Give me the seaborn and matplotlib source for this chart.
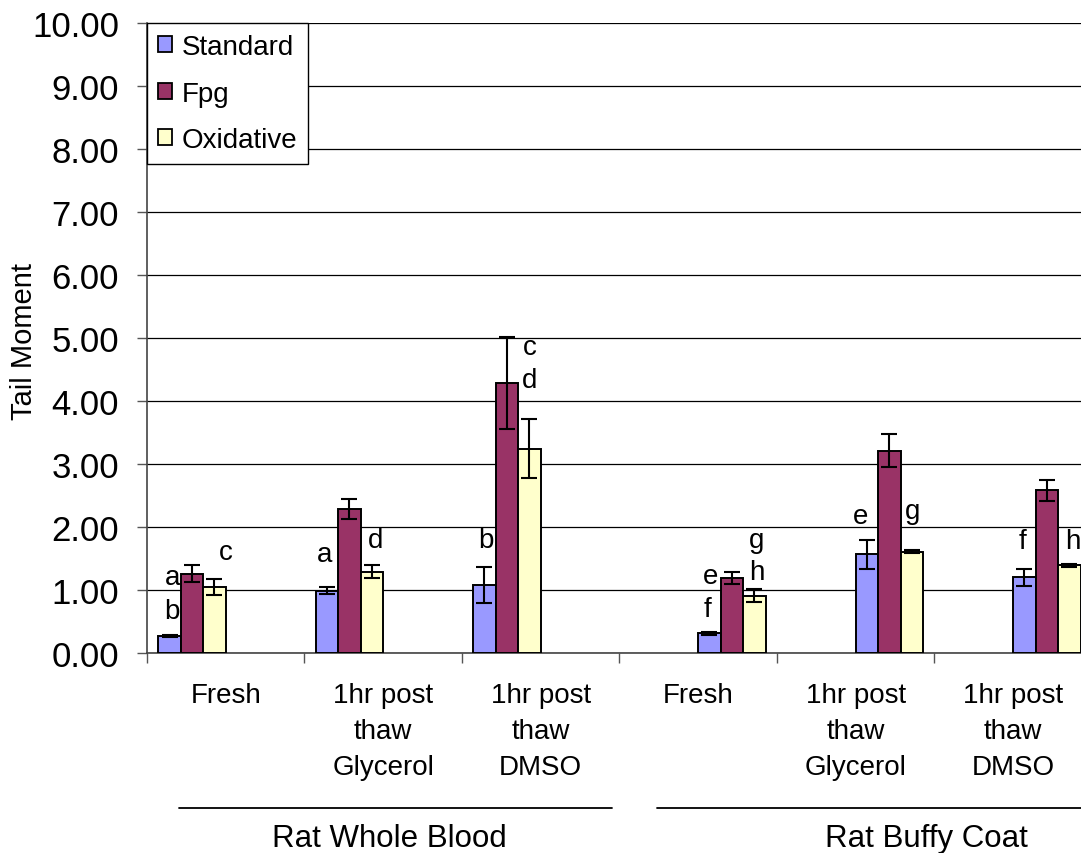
import matplotlib
matplotlib.use("Agg")
import matplotlib.pyplot as plt
import matplotlib.transforms as mtransforms
from matplotlib.patches import Patch
import numpy as np
import pandas as pd
import seaborn as sns

# ---- data -------------------------------------------------------------
groups = ["Rat Whole Blood", "Rat Buffy Coat"]
conditions = ["Fresh", "1hr post\nthaw\nGlycerol", "1hr post\nthaw\nDMSO"]
series = ["Standard", "Fpg", "Oxidative"]
series_colors = ["#9999FF", "#993366", "#FFFFCC"]

wb_standard = [0.27, 0.99, 1.08]
wb_fpg = [1.26, 2.28, 4.29]
wb_oxidative = [1.05, 1.29, 3.24]
bc_standard = [0.31, 1.57, 1.20]
bc_fpg = [1.19, 3.21, 2.58]
bc_oxidative = [0.91, 1.61, 1.39]

wb_standard_err = [0.02, 0.05, 0.29]
wb_fpg_err = [0.13, 0.16, 0.73]
wb_oxidative_err = [0.13, 0.10, 0.47]
bc_standard_err = [0.02, 0.23, 0.14]
bc_fpg_err = [0.10, 0.26, 0.16]
bc_oxidative_err = [0.10, 0.03, 0.03]

# significance letters placed in category units / tail-moment units
letter_text = ["b", "a", "c", "a", "d", "b", "c", "d",
               "f", "e", "h", "g", "e", "g", "f", "h"]
letter_x = [-0.34, -0.34, 0.00, 0.63, 0.95, 1.65, 1.93, 1.93,
            3.06, 3.08, 3.37, 3.37, 4.03, 4.36, 5.06, 5.38]
letter_y = [0.66, 1.20, 1.60, 1.57, 1.80, 1.80, 4.86, 4.34,
            0.70, 1.22, 1.28, 1.80, 2.17, 2.25, 1.77, 1.77]

means = {("Rat Whole Blood", "Standard"): wb_standard,
         ("Rat Whole Blood", "Fpg"): wb_fpg,
         ("Rat Whole Blood", "Oxidative"): wb_oxidative,
         ("Rat Buffy Coat", "Standard"): bc_standard,
         ("Rat Buffy Coat", "Fpg"): bc_fpg,
         ("Rat Buffy Coat", "Oxidative"): bc_oxidative}
errors = {("Rat Whole Blood", "Standard"): wb_standard_err,
          ("Rat Whole Blood", "Fpg"): wb_fpg_err,
          ("Rat Whole Blood", "Oxidative"): wb_oxidative_err,
          ("Rat Buffy Coat", "Standard"): bc_standard_err,
          ("Rat Buffy Coat", "Fpg"): bc_fpg_err,
          ("Rat Buffy Coat", "Oxidative"): bc_oxidative_err}

# Each sample type owns its own three bar slots, so six slots per category
cat_keys = [f"{g}|{c}" for g in groups for c in conditions]
slot_keys = [f"{g}|{s}" for g in groups for s in series]
palette = {f"{g}|{s}": col for g in groups for s, col in zip(series, series_colors)}

rows = []
for g in groups:
    for ci, c in enumerate(conditions):
        for s in series:
            rows.append({"category": f"{g}|{c}", "slot": f"{g}|{s}",
                         "value": means[(g, s)][ci], "err": errors[(g, s)][ci]})
df = pd.DataFrame(rows)

bar_width = 6 / 7
n_slots = len(slot_keys)
df["xpos"] = [cat_keys.index(c) - bar_width / 2 + (slot_keys.index(s) + 0.5) * bar_width / n_slots
              for c, s in zip(df["category"], df["slot"])]

# ---- figure ---------------------------------------------------------
sns.set_style("white")
plt.rcParams["font.family"] = ["Liberation Sans", "DejaVu Sans"]
plt.rcParams["text.color"] = "black"
plt.rcParams["axes.labelcolor"] = "black"
plt.rcParams["xtick.color"] = "black"
plt.rcParams["ytick.color"] = "black"
FS = 20

fig = plt.figure(figsize=(10.81, 8.54), dpi=100)
ax = fig.add_axes([147 / 1081, 200 / 854, 945 / 1081, 630 / 854])

sns.barplot(data=df, x="category", y="value", hue="slot", order=cat_keys,
            hue_order=slot_keys, palette=palette, width=bar_width, dodge=True,
            errorbar=None, edgecolor="black", linewidth=1.4, saturation=1,
            legend=False, ax=ax, zorder=3)

ax.errorbar(df["xpos"], df["value"], yerr=df["err"], fmt="none",
            ecolor="black", elinewidth=1.5, capsize=6, capthick=1.5, zorder=4)

ax.set_ylim(0, 10)
ax.set_xlim(-0.5, 5.5)
ax.set_yticks(np.arange(0, 11, 1))
ax.set_yticklabels([f"{v:.2f}" for v in np.arange(0, 11, 1)], fontsize=25)
ax.yaxis.grid(True, color="black", linewidth=0.9)
ax.set_axisbelow(True)

ax.set_xticks(np.arange(-0.5, 6, 1))
ax.set_xticklabels([])
ax.set_xticks(np.arange(6), labels=conditions * 2, minor=True)
ax.tick_params(axis="x", which="major", direction="out", length=7, width=1,
               color="#555555", bottom=True)
ax.tick_params(axis="x", which="minor", length=0, pad=21, labelsize=FS)
for lab in ax.get_xticklabels(minor=True):
    lab.set_linespacing(1.5)
ax.tick_params(axis="y", direction="out", length=7, width=1, color="#555555",
               pad=13, left=True)
ax.set_xlabel("")
ax.set_ylabel("")
fig.text(24 / 1081, 1 - 341 / 854, "Tail Moment", fontsize=21, rotation=90,
         ha="center", va="center")

for side in ["top", "right"]:
    ax.spines[side].set_visible(False)
for side in ["left", "bottom"]:
    ax.spines[side].set_color("#444444")
    ax.spines[side].set_linewidth(1.2)

for t, x, y in zip(letter_text, letter_x, letter_y):
    ax.text(x, y, t, fontsize=FS, ha="center", va="center", zorder=5)

# group brackets under the category labels
trans = mtransforms.blended_transform_factory(ax.transData, ax.transAxes)
group_spans = [(-0.30, 2.45), (2.74, 6.5)]
group_centers = [1.04, 4.45]
for (x0, x1), xc, name in zip(group_spans, group_centers, groups):
    ax.plot([x0, x1], [-0.246, -0.246], color="black", linewidth=1.3,
            transform=trans, clip_on=False)
    ax.text(xc, -0.294, name, fontsize=22.5, ha="center", va="center",
            transform=trans)

handles = [Patch(facecolor=c, edgecolor="black", linewidth=1.3) for c in series_colors]
leg = ax.legend(handles, series, loc="upper left", bbox_to_anchor=(0, 1),
                borderaxespad=0, frameon=True, fancybox=False, edgecolor="black",
                framealpha=1, handlelength=0.5, handleheight=0.5,
                handletextpad=0.35, labelspacing=0.74, borderpad=0.4,
                fontsize=FS)
leg.get_frame().set_linewidth(1.0)
leg.set_zorder(6)

fig.savefig("out.png", dpi=100)
